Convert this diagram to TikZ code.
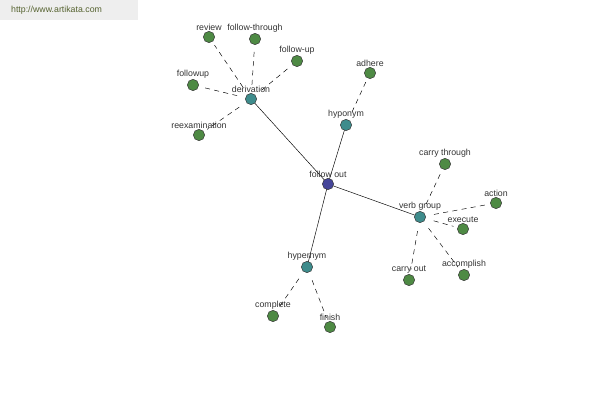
\documentclass[tikz,border=0pt]{standalone}
\usepackage{fontspec}
\setmainfont{Liberation Sans}
\definecolor{leafgreen}{HTML}{4E8A44}
\definecolor{relteal}{HTML}{3E8C8C}
\definecolor{rootblue}{HTML}{45459A}
\definecolor{labelgray}{HTML}{333333}
\definecolor{markgray}{HTML}{EEEEEE}
\definecolor{markgreen}{HTML}{55622F}
\tikzset{
  word/.style={circle,draw=black!80,line width=0.4pt,minimum size=0.34cm,inner sep=0pt,
    label={[inner sep=0.6pt,text=labelgray,font=\fontsize{7.5}{8}\selectfont]above:#1}},
  leaf/.style={word=#1,fill=leafgreen},
  rel/.style={word=#1,fill=relteal},
  link/.style={line width=0.4pt},
  sublink/.style={line width=0.4pt,dash pattern=on 0.15cm off 0.13cm,shorten <=0.25cm,shorten >=0.12cm}
}
\begin{document}
\begin{tikzpicture}[x=0.03cm,y=-0.03cm]
      \useasboundingbox (0,0) rectangle (600,400);
      \fill[markgray] (0,0) rectangle (138,20);
      \node[text=markgreen,font=\fontsize{7.5}{9}\selectfont,anchor=west] (site) at (7,10) {http://www.artikata.com};
      % relations
      \draw[link] (328,184) -- (251,99);
      \draw[link] (328,184) -- (346,125);
      \draw[link] (328,184) -- (420,217);
      \draw[link] (328,184) -- (307,267);
      \node[word={follow out},fill=rootblue] (fo) at (328,184) {};
      \node[rel=derivation] (der) at (251,99) {};
      \node[rel=hyponym] (hypo) at (346,125) {};
      \node[rel={verb group}] (vg) at (420,217) {};
      \node[rel=hypernym] (hyper) at (307,267) {};
      % leaves
      \node[leaf=review] (review) at (209,37) {};
      \node[leaf=follow-through] (fthrough) at (255,39) {};
      \node[leaf=follow-up] (fup) at (297,61) {};
      \node[leaf=followup] (followup) at (193,85) {};
      \node[leaf=reexamination] (reexam) at (199,135) {};
      \node[leaf=adhere] (adhere) at (370,73) {};
      \node[leaf={carry through}] (cthrough) at (445,164) {};
      \node[leaf=action] (action) at (496,203) {};
      \node[leaf=execute] (execute) at (463,229) {};
      \node[leaf=accomplish] (accomplish) at (464,275) {};
      \node[leaf={carry out}] (cout) at (409,280) {};
      \node[leaf=complete] (complete) at (273,316) {};
      \node[leaf=finish] (finish) at (330,327) {};
      \draw[sublink] (der) -- (review);
      \draw[sublink] (der) -- (fthrough);
      \draw[sublink] (der) -- (fup);
      \draw[sublink] (der) -- (followup);
      \draw[sublink] (der) -- (reexam);
      \draw[sublink] (hypo) -- (adhere);
      \draw[sublink] (vg) -- (cthrough);
      \draw[sublink] (vg) -- (action);
      \draw[sublink] (vg) -- (execute);
      \draw[sublink] (vg) -- (accomplish);
      \draw[sublink] (vg) -- (cout);
      \draw[sublink] (hyper) -- (complete);
      \draw[sublink] (hyper) -- (finish);
\end{tikzpicture}
\end{document}
